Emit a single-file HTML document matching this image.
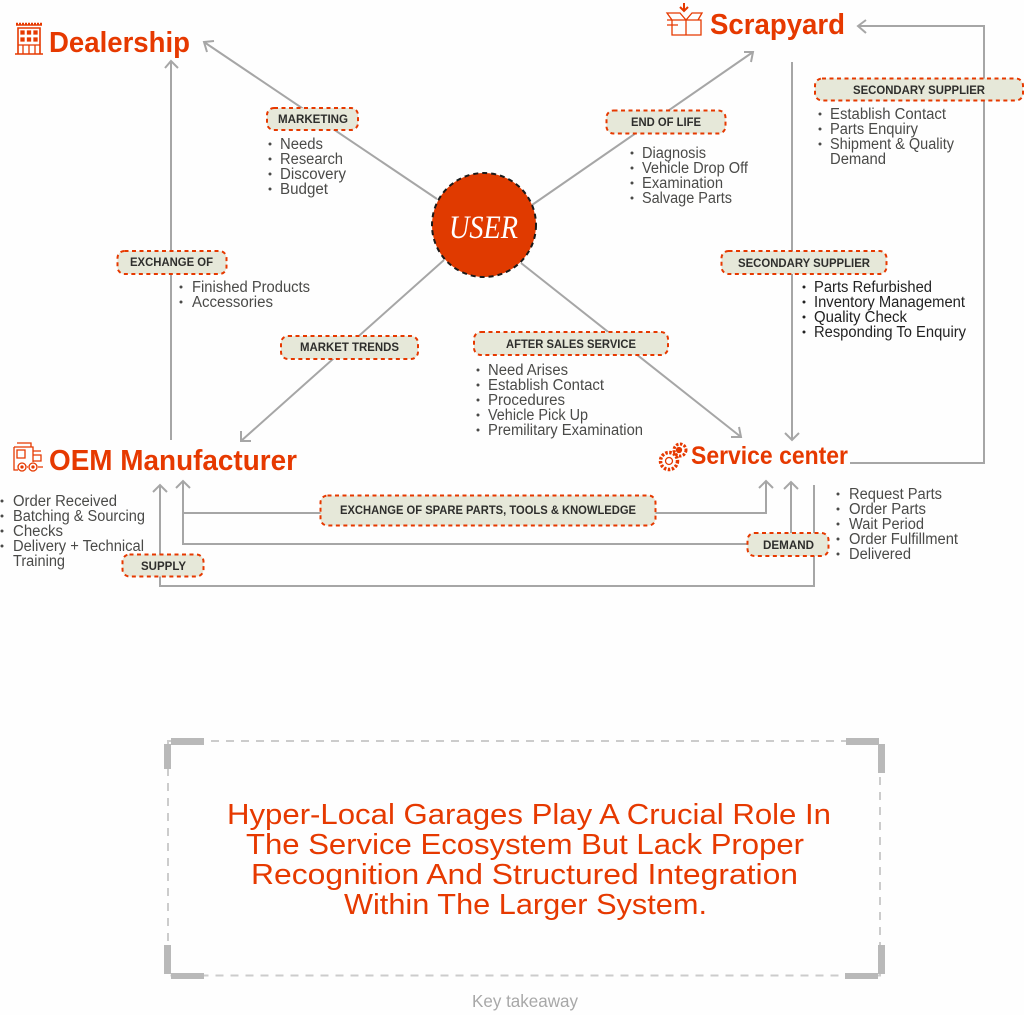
<!DOCTYPE html>
<html><head><meta charset="utf-8"><title>Service ecosystem diagram</title>
<style>
html,body{margin:0;padding:0;background:#fff}
svg{display:block}
text{font-family:"Liberation Sans",sans-serif}
.t{font-size:15.5px;fill:#4a4a48}
.d{font-size:15.5px;fill:#222}
.p{font-size:12px;font-weight:bold;fill:#2e2e2c}
.h{font-weight:bold;fill:#e63900}
.k{font-size:29px;fill:#e63900}
.l{fill:none;stroke:#a6a6a6;stroke-width:2}
.a{fill:none;stroke:#a6a6a6;stroke-width:2}
.pill{fill:#e6e8d9;stroke:#e63900;stroke-width:2;stroke-dasharray:4 3.5}
.i{fill:none;stroke:#e63900;stroke-width:1.3}
.b{fill:#4a4a48}
</style></head><body>
<svg width="1024" height="1015" viewBox="0 0 1024 1015" xmlns="http://www.w3.org/2000/svg">
<rect width="1024" height="1015" fill="#fefefe"/>

<!-- connectors -->
<path class="l" d="M437 199L204 42M532 205L753 52M444 260L241 441M521 263L741 437"/>
<path class="a" d="M207 52L204 42L214 41M744 52L753 52L751 62M241 431L241 441L251 441M731 437L741 437L739 427"/>
<path class="l" d="M171 440V61M792 62V440M850 463H984V26H858"/>
<path class="a" d="M165 68L171 61L178 68M785 433L792 440L799 433M866 20L858 26L866 33"/>
<path class="l" d="M160 485V586H814V485M183 481V544H750M183 513H325M652 513H766V481M791 535V482"/>
<path class="a" d="M153 492L160 485L167 492M176 488L183 481L190 488M759 488L766 481L773 488M784 489L791 482L798 489"/>

<!-- pills -->
<rect class="pill" x="267" y="108" width="91" height="22" rx="7"/>
<rect class="pill" x="606.500" y="110.500" width="119" height="23" rx="7"/>
<rect class="pill" x="815" y="78.500" width="208" height="22" rx="7"/>
<rect class="pill" x="721.500" y="251" width="165" height="23" rx="7"/>
<rect class="pill" x="117.500" y="251" width="109" height="23" rx="7"/>
<rect class="pill" x="281" y="336" width="137" height="23" rx="7"/>
<rect class="pill" x="474" y="332" width="194" height="23" rx="7"/>
<rect class="pill" x="320.500" y="495.500" width="335" height="30" rx="7"/>
<rect class="pill" x="747.500" y="533" width="81" height="23" rx="7"/>
<rect class="pill" x="122.500" y="554.500" width="81" height="22" rx="7"/>

<text class="p" lengthAdjust="spacingAndGlyphs" x="278" y="123" textLength="70">MARKETING</text>
<text class="p" lengthAdjust="spacingAndGlyphs" x="631" y="126" textLength="70">END OF LIFE</text>
<text class="p" lengthAdjust="spacingAndGlyphs" x="853" y="94" textLength="132">SECONDARY SUPPLIER</text>
<text class="p" lengthAdjust="spacingAndGlyphs" x="738" y="267" textLength="132">SECONDARY SUPPLIER</text>
<text class="p" lengthAdjust="spacingAndGlyphs" x="130" y="266" textLength="83">EXCHANGE OF</text>
<text class="p" lengthAdjust="spacingAndGlyphs" x="300" y="351" textLength="99">MARKET TRENDS</text>
<text class="p" lengthAdjust="spacingAndGlyphs" x="506" y="348" textLength="130">AFTER SALES SERVICE</text>
<text class="p" lengthAdjust="spacingAndGlyphs" x="340" y="514" textLength="296">EXCHANGE OF SPARE PARTS, TOOLS &amp; KNOWLEDGE</text>
<text class="p" lengthAdjust="spacingAndGlyphs" x="763" y="549" textLength="51">DEMAND</text>
<text class="p" lengthAdjust="spacingAndGlyphs" x="141" y="570" textLength="45">SUPPLY</text>

<!-- user -->
<circle cx="484" cy="225" r="52" fill="#e03a00" stroke="#1a1a1a" stroke-width="2" stroke-dasharray="5 4"/>
<text lengthAdjust="spacingAndGlyphs" x="449" y="238" textLength="69" style="font-family:'Liberation Serif',serif;font-style:italic;font-size:33px;fill:#fff">USER</text>

<!-- headings -->
<text class="h" lengthAdjust="spacingAndGlyphs" x="49" y="52" font-size="29" textLength="141">Dealership</text>
<text class="h" lengthAdjust="spacingAndGlyphs" x="710" y="34" font-size="29" textLength="135">Scrapyard</text>
<text class="h" lengthAdjust="spacingAndGlyphs" x="49" y="470" font-size="29" textLength="248">OEM Manufacturer</text>
<text class="h" lengthAdjust="spacingAndGlyphs" x="691" y="464" font-size="25" textLength="157">Service center</text>

<!-- dealership icon -->
<g class="i">
<path d="M15 54H43M18 28H40V54H18ZM16 25H42" stroke-width="1.600"/>
<path d="M16 24H42" stroke-dasharray="2 1" stroke-width="2.500"/>
<path d="M18 45H40M23 45V54M29 45V54M35 45V54"/>
<path fill="#e63900" d="M21 31h3v3h-3zM27.500 31h3v3h-3zM34 31h3v3h-3zM21 38h3v3h-3zM27.500 38h3v3h-3zM34 38h3v3h-3z"/>
</g>
<!-- scrapyard icon -->
<g class="i" stroke-width="1.700">
<path d="M672 20H701V35H672ZM686 20V35M672 20L667 13H680L686 20L692 13H702L698 20M667 20H678M667 25H678"/>
<path d="M684 3V10M680 7L684 11L688 7" stroke-width="2"/>
</g>
<!-- oem icon -->
<g class="i" stroke-width="1.500">
<path d="M14 447H33V462M14 447V470H18M17 450H25V458H17ZM17 443H31V447M33 451H41M33 455H41V461H33M27 467H28M38 467H43"/>
<circle cx="22" cy="467" r="4"/><circle cx="33" cy="467" r="4"/>
<circle cx="22" cy="467" r="1" fill="#e63900"/><circle cx="33" cy="467" r="1" fill="#e63900"/>
</g>
<!-- service icon -->
<g class="i">
<circle cx="669" cy="461" r="8.500" stroke-dasharray="2.500 1.500" stroke-width="3.500"/>
<circle cx="669" cy="461" r="3.500"/>
<circle cx="680" cy="450" r="6" stroke-dasharray="2.500 1.500" stroke-width="3"/>
<circle cx="679" cy="450" r="2.500" fill="#e63900"/>
</g>

<!-- lists -->
<g class="b">
<circle cx="270" cy="144" r="1.500"/><circle cx="270" cy="159" r="1.500"/><circle cx="270" cy="174" r="1.500"/><circle cx="270" cy="189" r="1.500"/>
<circle cx="632" cy="153" r="1.500"/><circle cx="632" cy="168" r="1.500"/><circle cx="632" cy="183" r="1.500"/><circle cx="632" cy="198" r="1.500"/>
<circle cx="820" cy="114" r="1.500"/><circle cx="820" cy="129" r="1.500"/><circle cx="820" cy="144" r="1.500"/>
<circle cx="181" cy="287" r="1.500"/><circle cx="181" cy="302" r="1.500"/>
<circle cx="804" cy="287" r="1.500" fill="#222"/><circle cx="804" cy="302" r="1.500" fill="#222"/><circle cx="804" cy="317" r="1.500" fill="#222"/><circle cx="804" cy="332" r="1.500" fill="#222"/>
<circle cx="478" cy="370" r="1.500"/><circle cx="478" cy="385" r="1.500"/><circle cx="478" cy="400" r="1.500"/><circle cx="478" cy="415" r="1.500"/><circle cx="478" cy="430" r="1.500"/>
<circle cx="2" cy="501" r="1.500"/><circle cx="2" cy="516" r="1.500"/><circle cx="2" cy="531" r="1.500"/><circle cx="2" cy="546" r="1.500"/>
<circle cx="838" cy="494" r="1.500"/><circle cx="838" cy="509" r="1.500"/><circle cx="838" cy="524" r="1.500"/><circle cx="838" cy="539" r="1.500"/><circle cx="838" cy="554" r="1.500"/>
</g>

<text class="t" lengthAdjust="spacingAndGlyphs" x="280" y="149" textLength="43">Needs</text>
<text class="t" lengthAdjust="spacingAndGlyphs" x="280" y="164" textLength="63">Research</text>
<text class="t" lengthAdjust="spacingAndGlyphs" x="280" y="179" textLength="66">Discovery</text>
<text class="t" lengthAdjust="spacingAndGlyphs" x="280" y="194" textLength="48">Budget</text>

<text class="t" lengthAdjust="spacingAndGlyphs" x="642" y="158" textLength="64">Diagnosis</text>
<text class="t" lengthAdjust="spacingAndGlyphs" x="642" y="173" textLength="106">Vehicle Drop Off</text>
<text class="t" lengthAdjust="spacingAndGlyphs" x="642" y="188" textLength="81">Examination</text>
<text class="t" lengthAdjust="spacingAndGlyphs" x="642" y="203" textLength="90">Salvage Parts</text>

<text class="t" lengthAdjust="spacingAndGlyphs" x="830" y="119" textLength="116">Establish Contact</text>
<text class="t" lengthAdjust="spacingAndGlyphs" x="830" y="134" textLength="88">Parts Enquiry</text>
<text class="t" lengthAdjust="spacingAndGlyphs" x="830" y="149" textLength="124">Shipment &amp; Quality</text>
<text class="t" lengthAdjust="spacingAndGlyphs" x="830" y="164" textLength="56">Demand</text>

<text class="t" lengthAdjust="spacingAndGlyphs" x="192" y="292" textLength="118">Finished Products</text>
<text class="t" lengthAdjust="spacingAndGlyphs" x="192" y="307" textLength="81">Accessories</text>

<text class="d" lengthAdjust="spacingAndGlyphs" x="814" y="292" textLength="118">Parts Refurbished</text>
<text class="d" lengthAdjust="spacingAndGlyphs" x="814" y="307" textLength="151">Inventory Management</text>
<text class="d" lengthAdjust="spacingAndGlyphs" x="814" y="322" textLength="93">Quality Check</text>
<text class="d" lengthAdjust="spacingAndGlyphs" x="814" y="337" textLength="152">Responding To Enquiry</text>

<text class="t" lengthAdjust="spacingAndGlyphs" x="488" y="375" textLength="80">Need Arises</text>
<text class="t" lengthAdjust="spacingAndGlyphs" x="488" y="390" textLength="116">Establish Contact</text>
<text class="t" lengthAdjust="spacingAndGlyphs" x="488" y="405" textLength="77">Procedures</text>
<text class="t" lengthAdjust="spacingAndGlyphs" x="488" y="420" textLength="100">Vehicle Pick Up</text>
<text class="t" lengthAdjust="spacingAndGlyphs" x="488" y="435" textLength="155">Premilitary Examination</text>

<text class="t" lengthAdjust="spacingAndGlyphs" x="13" y="506" textLength="104">Order Received</text>
<text class="t" lengthAdjust="spacingAndGlyphs" x="13" y="521" textLength="132">Batching &amp; Sourcing</text>
<text class="t" lengthAdjust="spacingAndGlyphs" x="13" y="536" textLength="50">Checks</text>
<text class="t" lengthAdjust="spacingAndGlyphs" x="13" y="551" textLength="131">Delivery + Technical</text>
<text class="t" lengthAdjust="spacingAndGlyphs" x="13" y="566" textLength="52">Training</text>

<text class="t" lengthAdjust="spacingAndGlyphs" x="849" y="499" textLength="93">Request Parts</text>
<text class="t" lengthAdjust="spacingAndGlyphs" x="849" y="514" textLength="77">Order Parts</text>
<text class="t" lengthAdjust="spacingAndGlyphs" x="849" y="529" textLength="75">Wait Period</text>
<text class="t" lengthAdjust="spacingAndGlyphs" x="849" y="544" textLength="109">Order Fulfillment</text>
<text class="t" lengthAdjust="spacingAndGlyphs" x="849" y="559" textLength="62">Delivered</text>

<!-- takeaway -->
<rect x="168" y="741" width="712" height="234.500" fill="none" stroke="#cccccc" stroke-width="2" stroke-dasharray="8 7" stroke-dashoffset="2"/>
<g fill="#b9b9b9">
<rect x="171" y="738" width="33" height="7"/><rect x="164" y="744" width="7" height="25"/>
<rect x="846" y="738" width="33" height="7"/><rect x="878" y="744" width="7" height="29"/>
<rect x="171" y="973" width="33" height="6"/><rect x="164" y="945" width="7" height="29"/>
<rect x="845" y="973" width="33" height="6"/><rect x="878" y="945" width="7" height="29"/>
</g>
<text class="k" lengthAdjust="spacingAndGlyphs" x="227" y="824" textLength="604">Hyper-Local Garages Play A Crucial Role In</text>
<text class="k" lengthAdjust="spacingAndGlyphs" x="246" y="854" textLength="558">The Service Ecosystem But Lack Proper</text>
<text class="k" lengthAdjust="spacingAndGlyphs" x="251" y="884" textLength="547">Recognition And Structured Integration</text>
<text class="k" lengthAdjust="spacingAndGlyphs" x="344" y="914" textLength="363">Within The Larger System.</text>
<text lengthAdjust="spacingAndGlyphs" x="472" y="1007" font-size="17.500" fill="#a8a8a8" textLength="106">Key takeaway</text>
</svg>
</body></html>
